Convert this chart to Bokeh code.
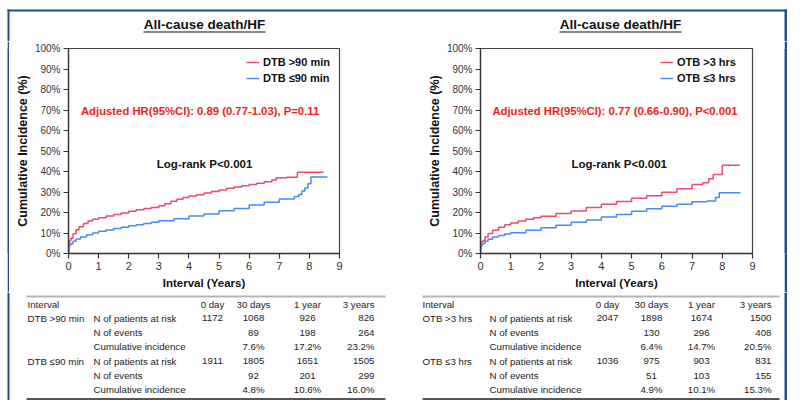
from bokeh.plotting import figure
from bokeh.layouts import column, row
from bokeh.models import Range1d, FixedTicker, PrintfTickFormatter, Label, Spacer
from bokeh.core.properties import value
from bokeh.embed import file_html
from bokeh.resources import INLINE

# ---------------- data ----------------
panel_title = "All-cause death/HF"
x_label = "Interval (Years)"
y_label = "Cumulative Incidence (%)"
x_ticks = [0, 1, 2, 3, 4, 5, 6, 7, 8, 9]
y_ticks = [0, 10, 20, 30, 40, 50, 60, 70, 80, 90, 100]
logrank_text = "Log-rank P<0.001"

dtb_labels = ["DTB >90 min", "DTB \u226490 min"]
dtb_hr_text = "Adjusted HR(95%CI): 0.89 (0.77-1.03), P=0.11"
dtb_gt90_t = [0, 0.005, 0.015, 0.03, 0.05, 0.083, 0.15, 0.25, 0.35, 0.5, 0.65, 0.8, 1.0, 1.25, 1.5,
              1.75, 2.0, 2.25, 2.5, 2.75, 3.0, 3.2, 3.4, 3.6, 3.8, 4.0, 4.25, 4.5, 4.75, 5.0, 5.25,
              5.5, 5.75, 6.0, 6.25, 6.5, 6.75, 6.9, 7.25, 7.6, 8.47]
dtb_gt90_v = [0, 3.0, 4.5, 5.5, 6.5, 7.6, 9.6, 11.6, 13.0, 14.6, 15.8, 16.7, 17.5, 18.3, 19.0,
              19.8, 20.6, 21.3, 21.9, 22.5, 23.3, 24.3, 25.5, 26.5, 27.3, 28.0, 28.7, 29.5, 30.3, 31.0, 31.8,
              32.4, 33.0, 33.7, 34.3, 35.0, 35.8, 37.0, 37.2, 39.6, 39.6]
dtb_le90_t = [0, 0.005, 0.015, 0.03, 0.05, 0.083, 0.15, 0.25, 0.4, 0.6, 0.8, 1.0, 1.25, 1.5, 1.75,
              2.0, 2.25, 2.5, 2.75, 3.0, 3.5, 4.0, 4.5, 5.0, 5.5, 6.0, 6.5, 7.0, 7.5, 7.65, 7.75,
              7.85, 7.95, 8.05, 8.6]
dtb_le90_v = [0, 2.0, 3.0, 3.8, 4.3, 4.8, 6.0, 7.1, 8.1, 9.2, 10.0, 10.8, 11.5, 12.2, 12.8,
              13.5, 14.0, 14.6, 15.2, 16.0, 17.0, 18.3, 19.3, 20.8, 22.0, 23.6, 25.0, 26.6, 27.8, 28.8, 30.5,
              32.0, 34.0, 37.3, 37.3]

otb_labels = ["OTB >3 hrs", "OTB \u22643 hrs"]
otb_hr_text = "Adjusted HR(95%CI): 0.77 (0.66-0.90), P<0.001"
otb_gt3_t = [0, 0.005, 0.015, 0.03, 0.05, 0.083, 0.15, 0.25, 0.4, 0.6, 0.8, 1.0, 1.25, 1.5, 1.75,
             2.0, 2.5, 3.0, 3.5, 4.0, 4.5, 5.0, 5.5, 6.0, 6.5, 7.0, 7.35, 7.55, 7.7, 8.0, 8.58]
otb_gt3_v = [0, 3.0, 4.5, 5.3, 5.9, 6.4, 8.0, 9.8, 11.3, 12.8, 14.0, 14.9, 15.8, 16.7, 17.4,
             18.2, 19.5, 20.7, 22.4, 24.0, 25.4, 26.9, 28.2, 29.9, 31.6, 33.6, 34.5, 36.5, 38.5, 43.0, 43.0]
otb_le3_t = [0, 0.005, 0.015, 0.03, 0.05, 0.083, 0.15, 0.25, 0.4, 0.6, 0.8, 1.0, 1.5, 2.0, 2.5,
             3.0, 3.5, 4.0, 4.5, 5.0, 5.5, 6.0, 6.5, 7.0, 7.5, 7.78, 7.9, 8.6]
otb_le3_v = [0, 2.0, 3.0, 3.8, 4.4, 4.9, 6.0, 7.0, 8.0, 8.8, 9.5, 10.1, 11.3, 12.6, 13.8,
             15.3, 16.3, 17.8, 19.0, 20.6, 21.8, 23.0, 24.0, 25.2, 25.6, 27.3, 29.6, 29.6]

# risk table
table_intervals = ["0 day", "30 days", "1 year", "3 years"]
table_row_labels = ["N of patients at risk", "N of events", "Cumulative incidence"]
dtb_gt90_risk = [1172, 1068, 926, 826]
dtb_gt90_events = [89, 198, 264]
dtb_gt90_ci = [7.6, 17.2, 23.2]
dtb_le90_risk = [1911, 1805, 1651, 1505]
dtb_le90_events = [92, 201, 299]
dtb_le90_ci = [4.8, 10.6, 16.0]
otb_gt3_risk = [2047, 1898, 1674, 1500]
otb_gt3_events = [130, 296, 408]
otb_gt3_ci = [6.4, 14.7, 20.5]
otb_le3_risk = [1036, 975, 903, 831]
otb_le3_events = [51, 103, 155]
otb_le3_ci = [4.9, 10.1, 15.3]

# ---------------- style / layout ----------------
RED = "#ef4a6a"
BLUE = "#4a8af4"
FRAME_BLUE = "#1f4e8c"
FONT = "Liberation Sans"
TOTAL_W = 787
HEAD_H = 41
KM_H = 251
TAB_H = 108
LEFT_BAR = (7, 9)
RIGHT_BAR = (784, 787)


def blank_fig(w, h):
    f = figure(width=w, height=h, x_range=Range1d(0, w), y_range=Range1d(h, 0),
               min_border=0, toolbar_location=None, output_backend="svg",
               x_axis_type=None, y_axis_type=None, outline_line_color=None,
               background_fill_color="white", border_fill_color="white")
    f.grid.visible = False
    return f


def side_bars(f, top, h):
    f.quad(left=[LEFT_BAR[0], RIGHT_BAR[0]], right=[LEFT_BAR[1], RIGHT_BAR[1]],
           top=[top, top], bottom=[h, h], fill_color=FRAME_BLUE, line_color=None)


# ---------------- header ----------------
head = blank_fig(TOTAL_W, HEAD_H)
head.quad(left=[LEFT_BAR[0]], right=[RIGHT_BAR[1]], top=[9], bottom=[11],
          fill_color=FRAME_BLUE, line_color=None)
side_bars(head, 9, HEAD_H)
title_centers = [204, 620]
head.text(x=title_centers, y=[24, 24], text=[panel_title, panel_title],
          text_align="center", text_baseline="middle", text_font=value(FONT),
          text_font_style="bold", text_font_size="13.5px", text_color="#111111")
head.segment(x0=[c - 61 for c in title_centers], x1=[c + 61 for c in title_centers],
             y0=[31.5, 31.5], y1=[31.5, 31.5], line_color="#111111", line_width=1.2)


# ---------------- KM figures ----------------
def km_fig(width, mbl, mbr, series, hr_text, hr_x, lr_x, leg_x):
    p = figure(width=width, height=KM_H, x_range=Range1d(0, 9), y_range=Range1d(0, 100),
               min_border_left=mbl, min_border_right=mbr, min_border_top=7, min_border_bottom=39,
               toolbar_location=None, output_backend="svg",
               background_fill_color="white", border_fill_color="white")
    p.grid.visible = False
    p.outline_line_color = "#444444"
    p.outline_line_width = 1.2
    for t, v, color, label in series:
        p.step(t, v, mode="after", line_color=color, line_width=1.5, legend_label=label)
    p.xaxis.ticker = FixedTicker(ticks=x_ticks)
    p.yaxis.ticker = FixedTicker(ticks=y_ticks)
    p.yaxis.formatter = PrintfTickFormatter(format="%d%%")
    for ax in (p.xaxis[0], p.yaxis[0]):
        ax.major_tick_out = 5
        ax.major_tick_in = 0
        ax.minor_tick_out = 0
        ax.minor_tick_in = 0
        ax.axis_line_color = "#333333"
        ax.axis_line_width = 1.3
        ax.major_tick_line_color = "#333333"
        ax.major_tick_line_width = 1.2
        ax.major_label_text_font = FONT
        ax.major_label_text_font_size = "10px"
        ax.major_label_text_color = "#333333"
        ax.major_label_standoff = 3
        ax.axis_label_text_font = FONT
        ax.axis_label_text_font_style = "bold"
        ax.axis_label_text_color = "#111111"
    p.xaxis.major_label_text_font_size = "11px"
    p.xaxis.axis_label = x_label
    p.xaxis.axis_label_text_font_size = "11.5px"
    p.xaxis.axis_label_standoff = 4
    p.yaxis.axis_label = y_label
    p.yaxis.axis_label_text_font_size = "12.5px"
    p.yaxis.axis_label_standoff = 2

    p.add_layout(Label(x=hr_x, y=69.3, text=hr_text, text_align="center", text_baseline="middle",
                       text_color="#f21c1c", text_font=FONT, text_font_style="bold",
                       text_font_size="11.3px"))
    p.add_layout(Label(x=lr_x, y=43.9, text=logrank_text, text_align="center", text_baseline="middle",
                       text_color="#111111", text_font=FONT, text_font_style="bold",
                       text_font_size="11.5px"))
    lg = p.legend[0]
    lg.location = (leg_x, 167)
    lg.border_line_color = None
    lg.background_fill_alpha = 0
    lg.label_text_font = FONT
    lg.label_text_font_style = "bold"
    lg.label_text_font_size = "11px"
    lg.label_text_color = "#111111"
    lg.glyph_width = 13
    lg.glyph_height = 16
    lg.label_height = 16
    lg.label_standoff = 4
    lg.spacing = 0
    lg.padding = 1
    lg.margin = 0
    return p


km_left = km_fig(391, 59, 61,
                 [(dtb_gt90_t, dtb_gt90_v, RED, dtb_labels[0]),
                  (dtb_le90_t, dtb_le90_v, BLUE, dtb_labels[1])],
                 dtb_hr_text, 4.37, 4.52, 178)
km_right = km_fig(384, 80, 32,
                  [(otb_gt3_t, otb_gt3_v, RED, otb_labels[0]),
                   (otb_le3_t, otb_le3_v, BLUE, otb_labels[1])],
                  otb_hr_text, 4.45, 4.59, 180)


def strip(w):
    s = figure(width=w, height=KM_H, x_range=Range1d(0, 1), y_range=Range1d(0, 1),
               min_border=0, toolbar_location=None, output_backend="svg",
               x_axis_type=None, y_axis_type=None, outline_line_color=None,
               background_fill_color=FRAME_BLUE, border_fill_color=FRAME_BLUE)
    s.grid.visible = False
    return s


km_row = row(Spacer(width=LEFT_BAR[0], height=KM_H), strip(LEFT_BAR[1] - LEFT_BAR[0]),
             km_left, km_right, strip(RIGHT_BAR[1] - RIGHT_BAR[0]))

# ---------------- risk tables ----------------
tab = blank_fig(TOTAL_W, TAB_H)
side_bars(tab, 0, TAB_H)
row_y = [11.5, 25.8, 40.1, 54.4, 68.7, 83.0, 97.3]
TXT = dict(text_font=value(FONT), text_font_size="9.7px", text_color="#222222",
           text_baseline="middle")


def draw_table(x_label_col, x_rowlab, col_centers, col_right, line_x0, line_x1, groups):
    lefts_x, lefts_y, lefts_t = [x_label_col], [row_y[0]], ["Interval"]
    cen_x, cen_y, cen_t = [], [], []
    rig_x, rig_y, rig_t = [col_right], [row_y[0]], [table_intervals[3]]
    for i in range(3):
        cen_x.append(col_centers[i]); cen_y.append(row_y[0]); cen_t.append(table_intervals[i])
    for g, (name, risk, events, ci) in enumerate(groups):
        base = 1 + 3 * g
        lefts_x.append(x_label_col); lefts_y.append(row_y[base]); lefts_t.append(name)
        for r in range(3):
            lefts_x.append(x_rowlab); lefts_y.append(row_y[base + r]); lefts_t.append(table_row_labels[r])
        for c in range(4):
            vals = [str(risk[c]),
                    "" if c == 0 else str(events[c - 1]),
                    "" if c == 0 else "%.1f%%" % ci[c - 1]]
            for r in range(3):
                if vals[r] == "":
                    continue
                if c < 3:
                    cen_x.append(col_centers[c]); cen_y.append(row_y[base + r]); cen_t.append(vals[r])
                else:
                    rig_x.append(col_right); rig_y.append(row_y[base + r]); rig_t.append(vals[r])
    tab.text(x=lefts_x, y=lefts_y, text=lefts_t, text_align="left", **TXT)
    tab.text(x=cen_x, y=cen_y, text=cen_t, text_align="center", **TXT)
    tab.text(x=rig_x, y=rig_y, text=rig_t, text_align="right", **TXT)
    tab.segment(x0=[line_x0], x1=[line_x1], y0=[4], y1=[4], line_color="#b5b5b5", line_width=1.8)
    tab.segment(x0=[line_x0], x1=[line_x1], y0=[106.5], y1=[106.5], line_color="#555555", line_width=2)


draw_table(27, 93, [212, 253, 307], 374, 26, 385,
           [(dtb_labels[0], dtb_gt90_risk, dtb_gt90_events, dtb_gt90_ci),
            (dtb_labels[1], dtb_le90_risk, dtb_le90_events, dtb_le90_ci)])
draw_table(422, 489, [607, 651, 701], 771, 422, 779,
           [(otb_labels[0], otb_gt3_risk, otb_gt3_events, otb_gt3_ci),
            (otb_labels[1], otb_le3_risk, otb_le3_events, otb_le3_ci)])

layout = column(head, km_row, tab)
open("out.html", "w").write(file_html(layout, INLINE))
